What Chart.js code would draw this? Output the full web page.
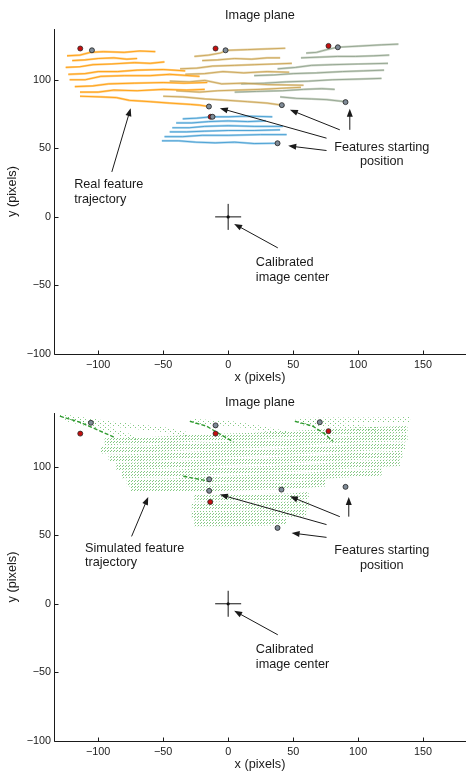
<!DOCTYPE html>
<html>
<head>
<meta charset="utf-8">
<title>Image plane</title>
<script src="https://cdn.jsdelivr.net/npm/chart.js@4/dist/chart.umd.min.js"></script>
<style>
  body { margin: 0; background: #fff; }
  canvas { display: block; }
</style>
</head>
<body>
<canvas id="realChart" width="466" height="387"></canvas>
<canvas id="simChart" width="466" height="387"></canvas>
<script>
// axis ticks (pixels)
const xTicks = [-100, -50, 0, 50, 100, 150];
const yTicks = [-100, -50, 0, 50, 100];

// measured feature tracks, one [x, y] list per feature
const orangeTracks = [
  [[-124, 117.5], [-114, 118], [-106, 120], [-96, 120.5], [-80, 120], [-68, 121], [-56, 120.5]],
  [[-120, 114], [-110, 114.5], [-100, 115.5], [-88, 116], [-78, 115], [-70, 115.5]],
  [[-125, 109], [-114, 109.5], [-104, 111], [-90, 111.5], [-72, 112.5], [-60, 112], [-49, 113]],
  [[-123, 104], [-110, 104.5], [-100, 106], [-85, 106], [-70, 107], [-50, 107.5], [-33, 106.5]],
  [[-122, 100], [-110, 100], [-98, 102.5], [-80, 103], [-60, 103], [-45, 104], [-22, 102.5]],
  [[-118, 95], [-104, 95.5], [-92, 97], [-72, 97.5], [-50, 98], [-34, 97.5], [-16, 98]],
  [[-114, 91], [-100, 91], [-88, 92.5], [-70, 92], [-50, 93], [-32, 92.5], [-18, 93]],
  [[-114, 88], [-98, 87.5], [-86, 87], [-76, 85], [-60, 84], [-45, 83], [-29, 82], [-22, 81.5], [-15, 80.5]]
];
const tanTracks = [
  [[-26, 117], [-15, 118], [-6, 119.5], [-1, 121.5], [15, 122], [30, 122.5], [44, 123]],
  [[-20, 114], [-8, 114.5], [5, 115.5], [18, 115], [30, 116], [40, 116]],
  [[-37, 108], [-24, 108.5], [-12, 110], [5, 110.5], [20, 111], [35, 111.5], [49, 112]],
  [[-33, 104], [-18, 104.5], [-4, 106], [12, 105], [30, 106], [47, 105.5]],
  [[-45, 99], [-30, 98.5], [-18, 99.5], [-5, 97], [12, 97.5], [30, 96.5], [58, 96]],
  [[-40, 92], [-22, 91], [-8, 92], [8, 92.5], [25, 93], [45, 94], [56, 94.5]],
  [[-50, 88], [-35, 87.5], [-18, 86], [0, 85], [15, 84], [30, 83], [41, 81.5]]
];
const greyTracks = [
  [[60, 119.5], [68, 120], [76, 122], [84, 123.7], [100, 124.5], [118, 125.5], [131, 126]],
  [[56, 116], [70, 116.5], [84, 117], [98, 117], [112, 117.5], [124, 118]],
  [[38, 108], [52, 109], [64, 110.5], [80, 111], [100, 111.5], [123, 112]],
  [[20, 103], [35, 103.5], [50, 104.5], [68, 105], [88, 106], [104, 106.5], [120, 107]],
  [[10, 97], [28, 97.5], [45, 98.5], [62, 99], [80, 100], [100, 100.5], [118, 101]],
  [[5, 91], [22, 91.5], [42, 92], [58, 93], [72, 93.5], [82, 93]],
  [[40, 87.5], [52, 86.5], [64, 86], [76, 85.5], [90, 84]]
];
const blueTracks = [
  [[-35, 71.5], [-24, 72], [-13, 73], [0, 73], [15, 73.5], [34, 73]],
  [[-40, 68.5], [-28, 68.5], [-15, 69.5], [0, 70], [15, 69.5], [29, 70]],
  [[-43, 65], [-30, 65], [-18, 66], [0, 66.5], [20, 66], [42, 66]],
  [[-45, 62], [-32, 62], [-18, 62.5], [0, 63], [20, 63], [40, 63.5]],
  [[-49, 58.5], [-35, 58.5], [-20, 59.5], [0, 59.5], [25, 60], [45, 60]],
  [[-51, 55.5], [-38, 55.5], [-25, 54.5], [-10, 54], [5, 54.5], [20, 53.5], [38, 53.7]]
];
const realStarts = [[-104.8, 121.5], [-2, 121.5], [84.4, 123.7], [-14.8, 80.5], [-12, 73], [41.3, 81.5], [90.3, 83.7], [38, 53.7]];
const realFirst = [[-113.8, 122.8], [-9.7, 122.8], [77.2, 124.7], [-13.5, 73]];

// simulated tracks: dotted bands, dense streaks and sparse tails
const simBands = [
  [[-95, 118], [-60, 119], [-20, 121], [20, 122], [60, 124], [100, 126], [138, 127]],
  [[-98, 112], [-60, 113], [-20, 115], [20, 116], [60, 118], [100, 120], [138, 121]],
  [[-92, 106], [-55, 107], [-15, 109], [25, 110], [65, 112], [105, 114], [136, 115]],
  [[-86, 100], [-50, 101], [-10, 103], [30, 104], [70, 106], [110, 108], [134, 109]],
  [[-82, 94], [-45, 95], [-5, 97], [35, 98], [75, 100], [110, 102], [132, 103]],
  [[-78, 88], [-40, 89], [0, 91], [40, 92], [80, 94], [118, 96]],
  [[-75, 84], [-40, 84], [0, 85], [40, 86], [75, 88]],
  [[-26, 77], [0, 77], [25, 77.5], [50, 78], [62, 79]],
  [[-28, 71], [0, 71], [25, 71.5], [50, 72], [62, 72]],
  [[-28, 65], [0, 65], [25, 65.5], [50, 66], [60, 66]],
  [[-26, 59], [0, 59], [25, 59.5], [45, 60]]
];
const simStreaks = [
  [[-129.5, 136.7], [-114, 132.3], [-100, 126.5], [-88, 121.5]],
  [[-29.5, 133], [-16.6, 129.4], [-5, 123], [4, 118]],
  [[51.3, 133], [65.2, 129.4], [74, 124], [80.5, 118.5]],
  [[-34.5, 92.9], [-24, 91], [-14, 89.3]]
];
const simSparse = [
  [[-129.5, 136.7], [-90, 131], [-50, 127], [-31.8, 123.4]],
  [[-125, 135], [-95, 128], [-70, 120]],
  [[-28, 133], [5, 131], [25, 128], [45, 124]],
  [[52, 133.5], [80, 134], [110, 134], [140, 134.3]],
  [[55, 132], [85, 130], [115, 127]]
];
const simStarts = [[-105.6, 131.9], [-9.7, 130], [70.5, 132.3], [-14.6, 90.7], [-14.6, 82.3], [41, 83.2], [90.3, 85.2], [38, 55.3]];
const simFirst = [[-113.8, 124], [-9.7, 124], [77.2, 125.8], [-13.8, 74.2]];

const imageCenter = [[0, 0]];

Chart.defaults.font.family = '"Liberation Sans", Arial, Helvetica, sans-serif';
Chart.defaults.color = '#1a1a1a';

const pts = arr => arr.map(([x, y]) => ({ x, y }));

function dotPattern(color, w, h, dots) {
  const c = document.createElement('canvas');
  c.width = w;
  c.height = h;
  const g = c.getContext('2d');
  g.fillStyle = color;
  dots.forEach(([x, y]) => g.fillRect(x, y, 1, 1));
  return g.createPattern(c, 'repeat');
}

function trackSets(tracks, dark, light) {
  const sets = [];
  tracks.forEach(t => {
    sets.push({ data: pts(t), showLine: true, borderColor: light, borderWidth: 2.2, pointRadius: 0, order: 3 });
    sets.push({ data: pts(t), showLine: true, borderColor: dark, borderWidth: 0.8, pointRadius: 0, order: 2 });
  });
  return sets;
}

function markerSets(starts, first) {
  return [
    { data: pts(first), pointRadius: 2.5, pointBackgroundColor: '#c40f0f', pointBorderColor: '#2a2a2a', pointBorderWidth: 0.8, order: 1 },
    { data: pts(starts), pointRadius: 2.5, pointBackgroundColor: '#7f8b97', pointBorderColor: '#1e1e1e', pointBorderWidth: 0.8, order: 0 },
    { data: pts(imageCenter), pointStyle: 'cross', pointRadius: 13, pointBorderColor: '#111', pointBorderWidth: 1, order: 0 },
    { data: pts(imageCenter), pointRadius: 1.6, pointBackgroundColor: '#111', pointBorderWidth: 0, order: 0 }
  ];
}

function drawArrow(ctx, x0, y0, x1, y1) {
  const a = Math.atan2(y1 - y0, x1 - x0);
  const len = 8, half = 3;
  const c = Math.cos(a), s = Math.sin(a);
  ctx.beginPath();
  ctx.moveTo(x0, y0);
  ctx.lineTo(x1 - c * len * 0.8, y1 - s * len * 0.8);
  ctx.stroke();
  ctx.beginPath();
  ctx.moveTo(x1, y1);
  ctx.lineTo(x1 - len * c + half * s, y1 - len * s - half * c);
  ctx.lineTo(x1 - len * c - half * s, y1 - len * s + half * c);
  ctx.closePath();
  ctx.fill();
}

// axis lines, inward ticks, arrows and notes
function overlay(notes) {
  return {
    id: 'overlay',
    afterDatasetsDraw(chart) {
      const { ctx, chartArea: area, scales: { x, y } } = chart;
      ctx.save();
      ctx.strokeStyle = '#1a1a1a';
      ctx.fillStyle = '#1a1a1a';
      ctx.lineWidth = 1;
      const L = Math.round(area.left) + 0.5;
      const B = Math.round(area.bottom) + 0.5;
      ctx.beginPath();
      ctx.moveTo(L, area.top);
      ctx.lineTo(L, B);
      ctx.lineTo(area.right, B);
      xTicks.forEach(v => {
        const px = Math.round(x.getPixelForValue(v)) + 0.5;
        ctx.moveTo(px, B);
        ctx.lineTo(px, B - 4);
      });
      yTicks.forEach(v => {
        const py = Math.round(y.getPixelForValue(v)) + 0.5;
        ctx.moveTo(L, py);
        ctx.lineTo(L + 4, py);
      });
      ctx.stroke();

      notes.arrows.forEach(([ax, ay, bx, by]) => {
        drawArrow(ctx, x.getPixelForValue(ax), y.getPixelForValue(ay), x.getPixelForValue(bx), y.getPixelForValue(by));
      });

      ctx.font = '12.7px "Liberation Sans", Arial, sans-serif';
      ctx.textBaseline = 'middle';
      notes.labels.forEach(n => {
        ctx.textAlign = n.align || 'left';
        n.lines.forEach((s, i) => {
          ctx.fillText(s, x.getPixelForValue(n.x), y.getPixelForValue(n.y) + i * 14.5);
        });
      });
      ctx.restore();
    }
  };
}

function makeChart(id, datasets, yMax, titlePad, notes) {
  return new Chart(document.getElementById(id), {
    type: 'scatter',
    data: { datasets },
    options: {
      responsive: false,
      animation: false,
      devicePixelRatio: 1,
      layout: { padding: 0, autoPadding: false },
      plugins: {
        legend: { display: false },
        tooltip: { enabled: false },
        title: {
          display: true,
          text: 'Image plane',
          fullSize: false,
          color: '#1a1a1a',
          font: { size: 12.7, weight: 'normal' },
          padding: titlePad
        }
      },
      scales: {
        x: {
          type: 'linear',
          min: -134,
          max: 183,
          afterBuildTicks: s => { s.ticks = xTicks.map(v => ({ value: v })); },
          afterFit: s => { s.height = 33; s.paddingLeft = 0; s.paddingRight = 0; },
          grid: { display: false, drawTicks: false },
          border: { display: false },
          ticks: {
            padding: 5,
            font: { size: 10.8 },
            color: '#1a1a1a',
            maxRotation: 0,
            callback: v => v < 0 ? '\u2212' + Math.abs(v) : String(v)
          },
          title: { display: true, text: 'x (pixels)', font: { size: 12.7 }, color: '#1a1a1a', padding: { top: 0, bottom: 1.4 } }
        },
        y: {
          type: 'linear',
          min: -100,
          max: yMax,
          afterBuildTicks: s => { s.ticks = yTicks.map(v => ({ value: v })); },
          afterFit: s => { s.width = 54; s.paddingTop = 0; s.paddingBottom = 0; },
          grid: { display: false, drawTicks: false },
          border: { display: false },
          ticks: {
            padding: 3,
            font: { size: 10.8 },
            color: '#1a1a1a',
            callback: v => v < 0 ? '\u2212' + Math.abs(v) : String(v)
          },
          title: { display: true, text: 'y (pixels)', font: { size: 12.7 }, color: '#1a1a1a', padding: { top: 4.4, bottom: 0 } }
        }
      }
    },
    plugins: [overlay(notes)]
  });
}

// real trajectories
const realSets = [
  ...trackSets(orangeTracks, '#ff9a00', '#ffcd85'),
  ...trackSets(tanTracks, '#c9a04e', '#e5d4aa'),
  ...trackSets(greyTracks, '#8c9e89', '#cbd4c6'),
  ...trackSets(blueTracks, '#3a98cf', '#a9d3ec'),
  ...markerSets(realStarts, realFirst)
];

makeChart('realChart', realSets, 137, { top: 7.4, bottom: 6.4 }, {
  arrows: [
    [-89.5, 32.8, -75, 79.3],
    [75.7, 57.4, -6.4, 79.3],
    [85.9, 63.5, 47.5, 78.1],
    [93.6, 63.5, 93.6, 78.8],
    [75.7, 48.4, 46.2, 51.8],
    [38.2, -22.6, 4.6, -5.1]
  ],
  labels: [
    { x: -118.5, y: 23.4, lines: ['Real feature', 'trajectory'] },
    { x: 118.2, y: 50.7, lines: ['Features starting', 'position'], align: 'center' },
    { x: 21.3, y: -33.6, lines: ['Calibrated', 'image center'] }
  ]
});

// simulated trajectories
const bandDots = dotPattern('rgba(80, 178, 80, 0.7)', 3, 3, [[0, 0], [2, 1]]);
const sparseDots = dotPattern('rgba(80, 178, 80, 0.7)', 5, 4, [[0, 0], [3, 2]]);

const simSets = [
  ...simBands.map(b => ({ data: pts(b), showLine: true, borderColor: bandDots, borderWidth: 7, pointRadius: 0, order: 4 })),
  ...simSparse.map(b => ({ data: pts(b), showLine: true, borderColor: sparseDots, borderWidth: 5, pointRadius: 0, order: 4 })),
  ...simStreaks.map(b => ({ data: pts(b), showLine: true, borderColor: '#2f9a2f', borderWidth: 1.4, borderDash: [4, 2], pointRadius: 0, order: 3 })),
  ...markerSets(simStarts, simFirst)
];

makeChart('simChart', simSets, 139, { top: 7.4, bottom: 3.4 }, {
  arrows: [
    [-74.3, 49.1, -61.5, 77.9],
    [75.7, 57.7, -6.4, 79.6],
    [85.9, 63.5, 47.5, 78.3],
    [92.8, 63.5, 92.8, 77.9],
    [75.7, 48.4, 48.8, 51.6],
    [38.2, -22.6, 4.6, -5.1]
  ],
  labels: [
    { x: -110.2, y: 40.5, lines: ['Simulated feature', 'trajectory'] },
    { x: 118.2, y: 38.5, lines: ['Features starting', 'position'], align: 'center' },
    { x: 21.3, y: -33.6, lines: ['Calibrated', 'image center'] }
  ]
});
</script>
</body>
</html>
